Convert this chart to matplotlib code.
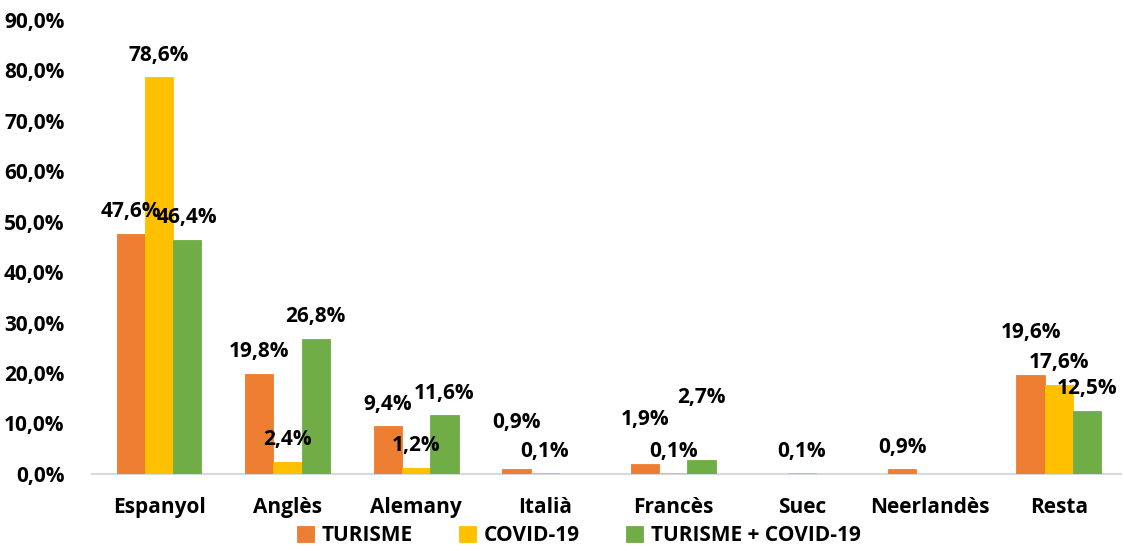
import numpy as np
import matplotlib
matplotlib.use("Agg")
import matplotlib.pyplot as plt

plt.rcParams["font.family"] = ["Open Sans", "DejaVu Sans"]

## Data
categories = ["Espanyol", "Anglès", "Alemany", "Italià", "Francès", "Suec", "Neerlandès", "Resta"]
turisme = [47.6, 19.8, 9.4, 0.9, 1.9, 0.04, 0.9, 19.6]
covid = [78.6, 2.4, 1.2, 0.1, 0.1, 0.1, 0.0, 17.6]
turisme_covid = [46.4, 26.8, 11.6, 0.0, 2.7, 0.0, 0.0, 12.5]
series_names = ["TURISME", "COVID-19", "TURISME + COVID-19"]
colors = ["#ED7D31", "#FFC000", "#70AD47"]

# labels that were moved up by hand in the original (series, category) -> extra %
label_lift = {(0, 3): 4.8, (0, 4): 4.4, (2, 4): 8.0, (0, 7): 4.0}

series = [turisme, covid, turisme_covid]
x = np.arange(len(categories))
width = 0.22
font_w = "bold"
fs = 15

fig = plt.figure(figsize=(11.24, 5.51), dpi=100)
ax = fig.add_axes([0.082, 0.140, 0.915, 0.824])

for i, (vals, name, col) in enumerate(zip(series, series_names, colors)):
    pos = x + (i - 1) * width
    v_arr = np.array(vals)
    ax.bar(pos, v_arr, width, color=col, label=name,
           edgecolor=[col if v > 0 else "none" for v in v_arr], linewidth=0.6)
    for j, v in enumerate(vals):
        if v < 0.05:
            continue
        y = v + 4.4 + label_lift.get((i, j), 0)
        ax.text(pos[j], y, f"{v:.1f}%".replace(".", ","), ha="center", va="center",
                fontsize=fs, fontweight=font_w)

ax.set_xlim(-0.52, 7.48)
ax.set_ylim(0, 90)
ax.set_yticks(np.arange(0, 91, 10))
ax.set_yticklabels([f"{t:.1f}%".replace(".", ",") for t in np.arange(0, 91, 10)],
                   fontsize=fs, fontweight=font_w)
ax.set_xticks(x)
ax.set_xticklabels(categories, fontsize=fs, fontweight=font_w)
ax.tick_params(axis="both", length=0)
ax.tick_params(axis="x", pad=17)
ax.tick_params(axis="y", pad=20)
for s in ["top", "right", "left"]:
    ax.spines[s].set_visible(False)
ax.spines["bottom"].set_color("#D9D9D9")
ax.spines["bottom"].set_linewidth(1.5)
ax.spines["bottom"].set_zorder(0)

fig.legend(loc="lower center", bbox_to_anchor=(0.515, -0.025), ncol=3, frameon=False,
           prop={"size": fs, "weight": font_w}, handlelength=0.8, handleheight=0.8,
           handletextpad=0.4, columnspacing=2.2)

plt.savefig("out.png", dpi=100)
